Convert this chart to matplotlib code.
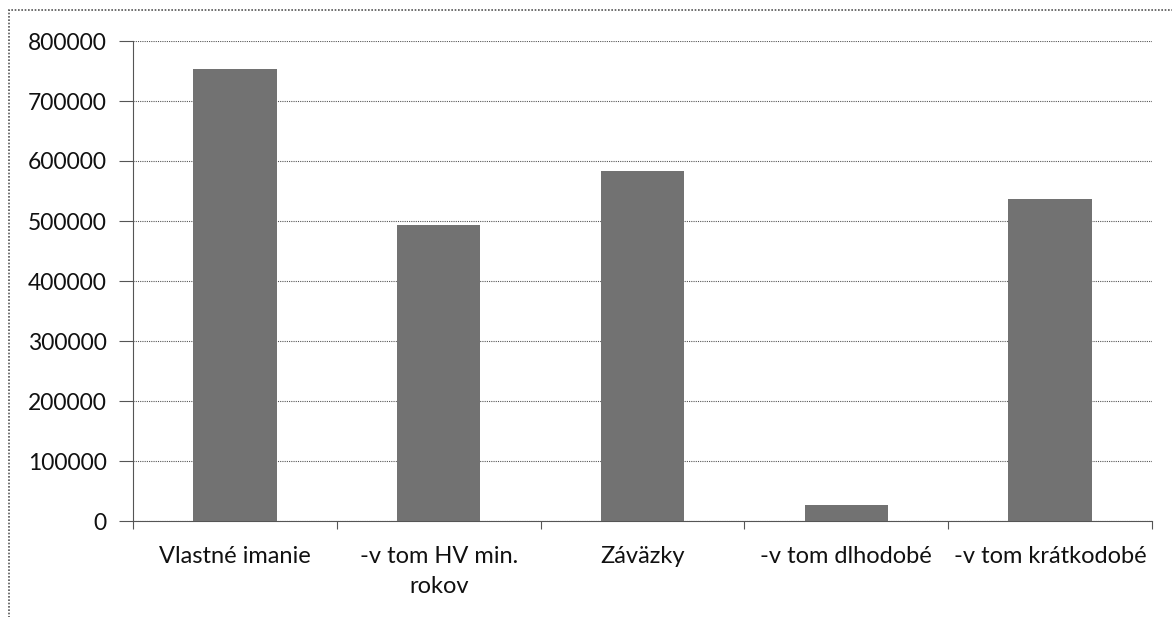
import matplotlib.pyplot as plt
from matplotlib.patches import Rectangle

kategorie = ["Vlastné imanie", "-v tom HV min.\nrokov", "Záväzky", "-v tom dlhodobé", "-v tom krátkodobé"]
hodnoty = [753000, 493000, 583000, 27000, 537000]
y_ticks = [0, 100000, 200000, 300000, 400000, 500000, 600000, 700000, 800000]

plt.rcParams['font.family'] = ['Lato', 'DejaVu Sans']

W, H = 1172, 617
fig = plt.figure(figsize=(W / 100, H / 100), dpi=100)
# plot area in pixels: left 133, right 1152, top 41, bottom 521
ax = fig.add_axes([133 / W, 1 - 521 / H, (1152 - 133) / W, (521 - 41) / H])

ax.bar(range(len(hodnoty)), hodnoty, width=0.41, color="#727272", zorder=3)

ax.set_xlim(-0.5, len(hodnoty) - 0.5)
ax.set_ylim(0, 800000)
ax.set_yticks(y_ticks)
ax.set_yticklabels([str(v) for v in y_ticks], fontsize=16.5, color="#111111")
ax.yaxis.grid(True, color="#555555", linewidth=0.8, linestyle=(0, (1, 1)), zorder=0)

ax.set_xticks(range(len(kategorie)))
ax.set_xticklabels(kategorie, fontsize=17, color="#111111", linespacing=1.55)
ax.tick_params(axis="x", length=0, pad=18)
ax.set_xticks([i - 0.5 for i in range(len(kategorie) + 1)], minor=True)
ax.tick_params(axis="x", which="minor", length=6, width=0.8, color="#555555")
ax.tick_params(axis="y", length=10, width=0.8, color="#555555", pad=9)

for s in ["top", "right"]:
    ax.spines[s].set_visible(False)
ax.spines["left"].set_color("#555555")
ax.spines["left"].set_linestyle((0, (1, 1)))
ax.spines["bottom"].set_color("#555555")
ax.spines["bottom"].set_linewidth(0.8)

# chart border (dotted, scanned look)
fig.patches.append(Rectangle((9 / W, -0.05), (1180 - 9) / W, 1 - 10 / H + 0.05,
                             transform=fig.transFigure, fill=False,
                             edgecolor="#555555", linewidth=1.2, linestyle=(0, (1, 1))))

fig.savefig("out.png", dpi=100)
